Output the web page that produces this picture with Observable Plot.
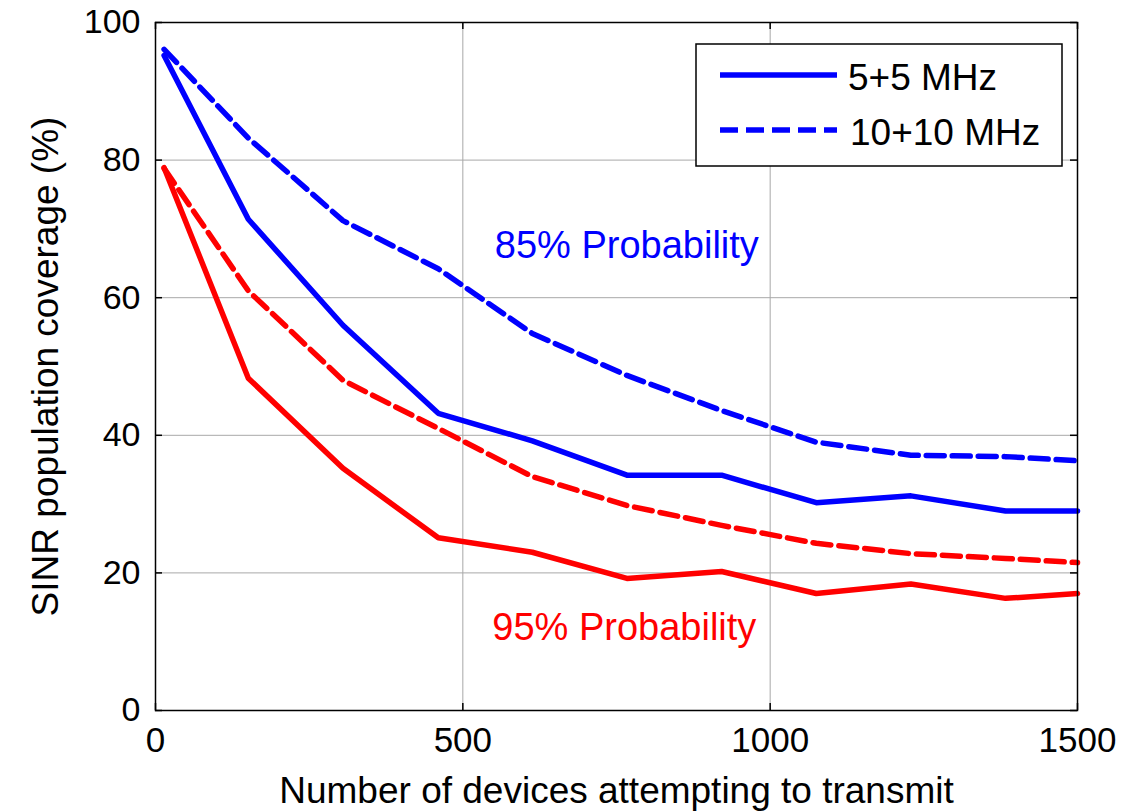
<!DOCTYPE html>
<html>
<head>
<meta charset="utf-8">
<script src="https://cdn.jsdelivr.net/npm/d3@7"></script>
<script src="https://cdn.jsdelivr.net/npm/@observablehq/plot@0.6"></script>
<style>
  html, body { margin: 0; padding: 0; background: #fff; }
  #chart { position: relative; width: 1121px; height: 811px; }
  svg { font-family: "Liberation Sans", Arial, sans-serif; }
</style>
</head>
<body>
<div id="chart"></div>
<script>
// ---- data ----
const devices = [14, 151, 305, 460, 613, 767, 921, 1075, 1229, 1383, 1500];
const p85_5MHz  = [95.2, 71.4, 56.0, 43.2, 39.2, 34.2, 34.2, 30.2, 31.2, 29.0, 29.0];
const p85_10MHz = [96.1, 83.2, 71.2, 64.2, 54.8, 48.7, 43.6, 39.0, 37.1, 36.9, 36.3];
const p95_5MHz  = [78.9, 48.3, 35.2, 25.1, 23.0, 19.2, 20.2, 17.0, 18.4, 16.3, 17.0];
const p95_10MHz = [78.8, 61.0, 48.0, 41.0, 34.0, 29.8, 26.9, 24.3, 22.8, 22.1, 21.5];
const xTicks = [0, 500, 1000, 1500];
const yTicks = [0, 20, 40, 60, 80, 100];
const legendLabels = ["5+5 MHz", "10+10 MHz"];
const annotations = [
  {x: 552, y: 65.8, text: "85% Probability", color: "#0000ff"},
  {x: 548, y: 10.2, text: "95% Probability", color: "#ff0000"}
];
const xLabel = "Number of devices attempting to transmit";
const yLabel = "SINR population coverage (%)";

const toRows = (vals) => devices.map((d, i) => ({x: d, y: vals[i]}));

const W = 1121, H = 811;
const mL = 155, mR = 44, mT = 22, mB = 101;
const innerW = W - mL - mR, innerH = H - mT - mB;
const tickLen = 7;
const BLUE = "#0000ff", RED = "#ff0000";
const DASH = "18,8";
const LW = 5.5;

const chart = Plot.plot({
  width: W,
  height: H,
  marginLeft: mL, marginRight: mR, marginTop: mT, marginBottom: mB,
  style: {fontFamily: '"Liberation Sans", Arial, sans-serif', background: "#fff", overflow: "visible"},
  x: {domain: [0, 1500], ticks: xTicks},
  y: {domain: [0, 100], ticks: yTicks},
  marks: [
    Plot.gridX(xTicks, {stroke: "#a8a8a8", strokeOpacity: 1, strokeWidth: 1}),
    Plot.gridY(yTicks, {stroke: "#a8a8a8", strokeOpacity: 1, strokeWidth: 1}),
    Plot.line(toRows(p95_10MHz), {x: "x", y: "y", stroke: RED, strokeWidth: LW, strokeDasharray: DASH}),
    Plot.line(toRows(p95_5MHz), {x: "x", y: "y", stroke: RED, strokeWidth: LW}),
    Plot.line(toRows(p85_10MHz), {x: "x", y: "y", stroke: BLUE, strokeWidth: LW, strokeDasharray: DASH}),
    Plot.line(toRows(p85_5MHz), {x: "x", y: "y", stroke: BLUE, strokeWidth: LW}),
    // inward ticks on all four sides
    Plot.ruleX(xTicks, {x: d => d, stroke: "black", strokeWidth: 1.5, insetTop: innerH - tickLen}),
    Plot.ruleX(xTicks, {x: d => d, stroke: "black", strokeWidth: 1.5, insetBottom: innerH - tickLen}),
    Plot.ruleY(yTicks, {y: d => d, stroke: "black", strokeWidth: 1.5, insetRight: innerW - tickLen}),
    Plot.ruleY(yTicks, {y: d => d, stroke: "black", strokeWidth: 1.5, insetLeft: innerW - tickLen}),
    Plot.frame({stroke: "black", strokeWidth: 1.5}),
    Plot.axisX(xTicks, {tickSize: 0, tickPadding: 17, fontSize: 35, label: null, fill: "black", tickFormat: d => String(d)}),
    Plot.axisY(yTicks, {tickSize: 0, tickPadding: 15, fontSize: 34, label: null, fill: "black", tickFormat: d => String(d)}),
    Plot.text(annotations, {x: "x", y: "y", text: "text", fill: "color", fontSize: 38, textAnchor: "start", lineAnchor: "bottom"}),
    Plot.text([xLabel], {text: d => d, frameAnchor: "bottom", dy: 92, lineAnchor: "bottom", fontSize: 37, fill: "black"}),
    Plot.text([yLabel], {text: d => d, frameAnchor: "left", dx: -98, rotate: -90, lineAnchor: "bottom", textAnchor: "middle", fontSize: 37, fill: "black"})
  ]
});

document.getElementById("chart").appendChild(chart);

// legend overlay (box in the upper-right of the axes)
const svg = d3.select(chart);
const lg = svg.append("g").attr("class", "legend").attr("text-anchor", "start");
const bx = 696, by = 44, bw = 366, bh = 122;
lg.append("rect").attr("x", bx).attr("y", by).attr("width", bw).attr("height", bh)
  .attr("fill", "white").attr("stroke", "black").attr("stroke-width", 1.5);
const styles = [{dash: null}, {dash: DASH}];
legendLabels.forEach((lab, i) => {
  const yy = by + 31 + i * 55;
  lg.append("line").attr("x1", bx + 24).attr("x2", bx + 141).attr("y1", yy).attr("y2", yy)
    .attr("stroke", BLUE).attr("stroke-width", LW)
    .attr("stroke-dasharray", styles[i].dash);
  lg.append("text").attr("x", bx + 152 + i * 2).attr("y", yy + 15)
    .attr("text-anchor", "start")
    .attr("font-size", 37).attr("fill", "black").text(lab);
});
</script>
</body>
</html>
